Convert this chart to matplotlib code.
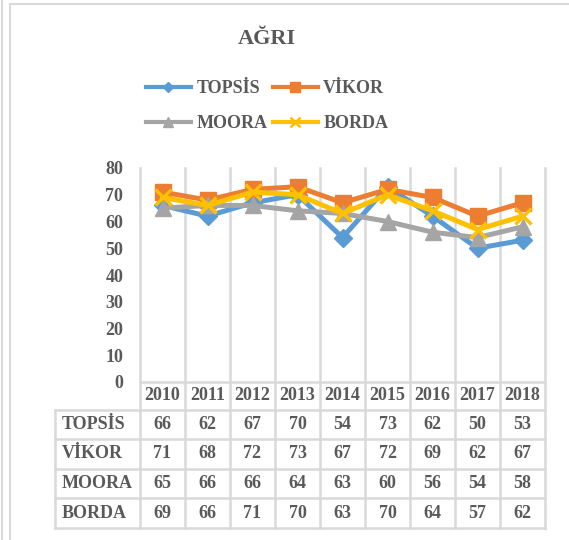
import matplotlib
matplotlib.use("Agg")
import matplotlib.pyplot as plt
from matplotlib.lines import Line2D

plt.rcParams['font.family'] = ['Liberation Serif', 'DejaVu Serif']
plt.rcParams['font.weight'] = 'bold'

# data
years = ['2010', '2011', '2012', '2013', '2014', '2015', '2016', '2017', '2018']
series_names = ['TOPSİS', 'VİKOR', 'MOORA', 'BORDA']
topsis = [66, 62, 67, 70, 54, 73, 62, 50, 53]
vikor = [71, 68, 72, 73, 67, 72, 69, 62, 67]
moora = [65, 66, 66, 64, 63, 60, 56, 54, 58]
borda = [69, 66, 71, 70, 63, 70, 64, 57, 62]
y_ticks = [0, 10, 20, 30, 40, 50, 60, 70, 80]

colors = ['#5B9BD5', '#ED7D31', '#A5A5A5', '#FFC000']
markers = ['D', 's', '^', 'x']
msizes = [9, 12, 12, 12]
leg_msizes = [5.5, 7, 7, 7]
values = [topsis, vikor, moora, borda]

txt = '#595959'
grid = '#D9D9D9'
fs = 13

W, H = 569, 540
fig = plt.figure(figsize=(W / 100, H / 100), dpi=100)

# plot area in pixels
px_l, px_r, py_t, py_b = 140, 545, 168, 382
ax = fig.add_axes([px_l / W, 1 - py_b / H, (px_r - px_l) / W, (py_b - py_t) / H])

x = list(range(len(years)))
handles = []
for vals, name, c, m, ms, lms in zip(values, series_names, colors, markers, msizes, leg_msizes):
    ax.plot(x, vals, color=c, lw=3.6, marker=m, markersize=ms,
            markeredgewidth=2.4 if m == 'x' else 1, markeredgecolor=c,
            zorder=3, clip_on=False)
    # smaller markers in the legend, as in the original
    handles.append(Line2D([], [], color=c, lw=3, marker=m, markersize=lms,
                          markeredgewidth=1.8 if m == 'x' else 1, markeredgecolor=c))

ax.set_xlim(-0.5, len(years) - 0.5)
ax.set_ylim(0, 80)
ax.set_yticks(y_ticks)
ax.set_yticklabels([str(v) for v in y_ticks], fontsize=fs, color=txt, fontweight='bold')
ax.tick_params(axis='y', length=0, pad=12)
ax.set_xticks([])
for s in ax.spines.values():
    s.set_visible(False)


def ay(py):
    return (py_b - py) / (py_b - py_t)


def axx(px):
    return (px - px_l) / (px_r - px_l)


tr = ax.transAxes
kw = dict(transform=tr, clip_on=False, color=grid, lw=1.8, zorder=1)

# table geometry (pixels)
header_b = 410
row_lines = [410, 439, 469, 498, 528]
label_l = 55

# vertical grid lines through plot and table
for i in range(len(years) + 1):
    xx = i / len(years)
    ax.add_line(Line2D([xx, xx], [1, ay(row_lines[-1])], **kw))
# x axis line
ax.add_line(Line2D([0, 1], [0, 0], **kw))
# horizontal table lines
for py in row_lines:
    ax.add_line(Line2D([axx(label_l), 1], [ay(py), ay(py)], **kw))
ax.add_line(Line2D([axx(label_l), axx(label_l)], [ay(row_lines[0]), ay(row_lines[-1])], **kw))

# header years
for i, yr in enumerate(years):
    ax.text((i + 0.5) / len(years), ay((py_b + header_b) / 2), yr, transform=tr,
            ha='center', va='center', fontsize=fs, color=txt, fontweight='bold')

# table rows
for r, (name, vals) in enumerate(zip(series_names, values)):
    yc = ay((row_lines[r] + row_lines[r + 1]) / 2)
    ax.text(axx(62), yc, name, transform=tr, ha='left', va='center',
            fontsize=fs, color=txt, fontweight='bold')
    for i, v in enumerate(vals):
        ax.text((i + 0.5) / len(years), yc, str(v), transform=tr, ha='center',
                va='center', fontsize=fs, color=txt, fontweight='bold')

# title
cx = 267 / W
fig.text(cx, 1 - 39 / H, 'AĞRI', ha='center', va='center', fontsize=16,
         color=txt, fontweight='bold')

# legend (two rows)
order = [0, 2, 1, 3]
leg = fig.legend([handles[i] for i in order], [series_names[i] for i in order],
                 loc='center', bbox_to_anchor=(cx, 1 - 106 / H), ncol=2,
                 frameon=False, fontsize=fs, handlelength=2.5, handletextpad=0.3,
                 columnspacing=0.3, labelspacing=1.0, labelcolor=txt)
for t in leg.get_texts():
    t.set_fontweight('bold')

# chart outer frame
fig.add_artist(Line2D([9.5 / W, 9.5 / W], [0, 1 - 4 / H], transform=fig.transFigure,
                      color=grid, lw=1.5))
fig.add_artist(Line2D([9.5 / W, 1], [1 - 4 / H, 1 - 4 / H], transform=fig.transFigure,
                      color=grid, lw=1.5))
fig.add_artist(Line2D([1.5 / W, 1.5 / W], [0, 1], transform=fig.transFigure,
                      color=grid, lw=1.5))

fig.savefig('out.png', dpi=100, facecolor='white')
